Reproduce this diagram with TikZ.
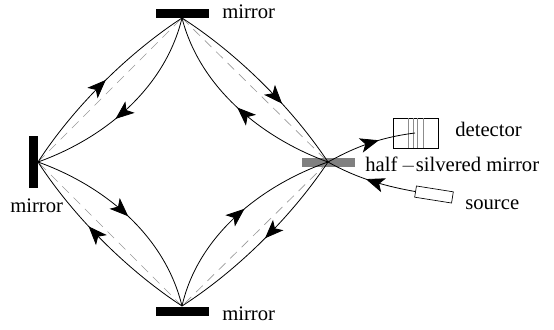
\documentclass[tikz,border=0pt]{standalone}
\usepackage{fontspec}
\setmainfont{Liberation Serif}
\usetikzlibrary{arrows.meta,decorations.markings}
\tikzset{
  px/.style={x=0.75pt,y=-0.75pt},
  mirrorbox/.style={fill=black,draw=none,inner sep=0pt,minimum width=39.75pt,minimum height=6.75pt},
  vmirrorbox/.style={fill=black,draw=none,inner sep=0pt,minimum width=6.75pt,minimum height=39pt},
  halfbox/.style={fill=black!50,draw=none,inner sep=0pt,minimum width=39.75pt,minimum height=6.75pt},
  lbl/.style={anchor=base west,inner sep=0pt,font=\fontsize{15.5}{17}\selectfont},
  ray/.style={line width=0.6pt,black},
  guide/.style={line width=0.5pt,black!40,dash pattern=on 7pt off 5pt},
  tip/.style={postaction={decorate},decoration={markings,mark=at position #1 with {\arrow{Stealth[length=14pt,width=11pt,inset=3.5pt]}}}},
  detbox/.style={draw=black,line width=0.5pt,fill=white,inner sep=0pt,minimum width=33.75pt,minimum height=22.5pt},
  srcbox/.style={draw=black,line width=0.5pt,fill=white,inner sep=0pt,minimum width=28pt,minimum height=8.5pt,rotate=-9},
  stripe/.style={line width=0.5pt,black!45},
}
\begin{document}
\begin{tikzpicture}[px]
\useasboundingbox (0,0) rectangle (554,329);
\node[mirrorbox] (mt) at (182.5,13.5) {};
\node[mirrorbox] (mb) at (182.5,311.5) {};
\node[vmirrorbox] (ml) at (33.5,162) {};
\node[halfbox] (mh) at (328.5,162.5) {};
\coordinate (T) at (182,18);
\coordinate (L) at (38,162);
\coordinate (B) at (182,306);
\coordinate (R) at (328,162);
\draw[guide] (L) -- (T);
\draw[guide] (T) -- (R);
\draw[guide] (R) -- (B);
\draw[guide] (B) -- (L);
% top-left
\draw[ray,tip=0.52] (L) .. controls (75,105) and (130,52) .. (T);
\draw[ray,tip=0.58] (T) .. controls (165,88) and (105,138) .. (L);
% top-right
\draw[ray,tip=0.64] (T) .. controls (235,52) and (290,105) .. (R);
\draw[ray,tip=0.5] (R) .. controls (262,138) and (200,88) .. (T);
% bottom-left
\draw[ray,tip=0.5] (L) .. controls (105,186) and (165,236) .. (B);
\draw[ray,tip=0.6] (B) .. controls (130,272) and (75,219) .. (L);
% bottom-right
\draw[ray,tip=0.55] (B) .. controls (198,236) and (260,186) .. (R);
\draw[ray,tip=0.48] (R) .. controls (290,219) and (235,272) .. (B);
% detector and source
\node[detbox] (det) at (415.5,133) {};
\foreach \sx in {408,413,417,423} \draw[stripe] (\sx,118) -- (\sx,148);
\coordinate (dend) at (415,133);
\draw[ray,tip=0.6] (R) .. controls (350,150) and (375,138) .. (dend);
\node[srcbox] (src) at (434,194.5) {};
\draw[ray,tip=0.55] (src.west) .. controls (390,187) and (360,180) .. (R);
\node[lbl] (t1) at (222,18) {mirror};
\node[lbl] (t2) at (10,212) {mirror};
\node[lbl] (t3) at (222,320) {mirror};
\node[lbl] (t4) at (455,136) {detector};
\node[lbl] (t5) at (365,171) {half\,$-$silvered mirror};
\node[lbl] (t6) at (465,209) {source};
\end{tikzpicture}
\end{document}
